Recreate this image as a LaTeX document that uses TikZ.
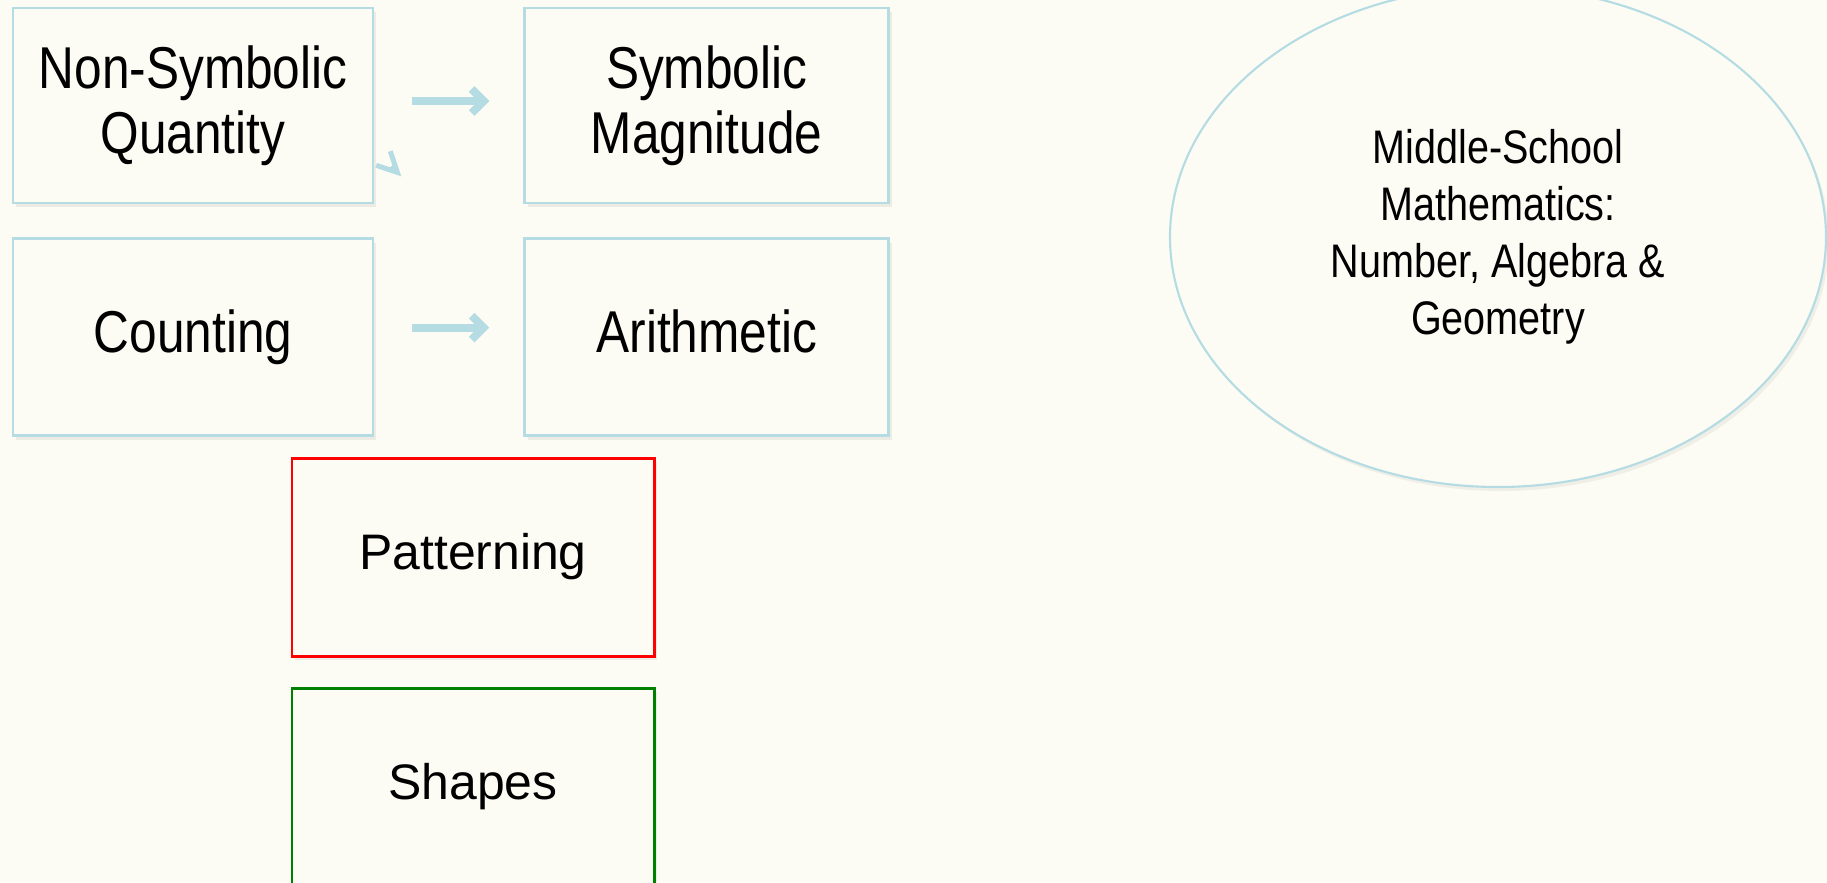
\documentclass[tikz,border=0pt]{standalone}
\usepackage{fontspec}
\setmainfont{Liberation Sans}
\newfontfamily\condfont[FakeStretch=0.84]{Liberation Sans}
\usepackage{xcolor}
\usetikzlibrary{arrows.meta, positioning, shapes.geometric, shadows}
\definecolor{paper}{HTML}{FCFCF4}
\definecolor{paleblue}{HTML}{B4DCE2}
\definecolor{boxred}{HTML}{FF0000}
\definecolor{boxgreen}{HTML}{008000}

\begin{document}
\begin{tikzpicture}[
    stage/.style={rectangle, draw=paleblue, line width=0.75pt, fill=paper,
                  minimum width=3.6cm, minimum height=1.95cm, inner sep=0pt, align=center,
                  font=\condfont\fontsize{16.8}{18.4}\selectfont,
                  drop shadow={opacity=0.12, shadow xshift=0.03cm, shadow yshift=-0.04cm}},
    skill/.style={stage, line width=0.85pt, minimum width=3.62cm, minimum height=1.98cm,
                  font=\fontsize{14.2}{17}\selectfont},
    flow/.style={-{Straight Barb[length=0.12cm, width=0.24cm]}, draw=paleblue, line width=0.08cm}
]
\fill[paper] (0,0) rectangle (18.27,-8.82);
\useasboundingbox (0,0) rectangle (18.27,-8.82);

\node[stage] (nsq) at (1.93,-1.055) {Non-Symbolic\\Quantity};
\node[stage, right=1.49cm of nsq, minimum width=3.64cm] (sm) {Symbolic\\Magnitude};
\node[stage, below=0.33cm of nsq, minimum height=1.97cm] (cnt) {Counting};
\node[stage, below=0.33cm of sm, minimum width=3.64cm, minimum height=1.97cm] (ari) {Arithmetic\vphantom{g}};
\node[skill, draw=boxred] (pat) at (4.73,-5.57) {Patterning};
\node[skill, draw=boxgreen, below=0.29cm of pat] (shp) {Shapes};
\node[ellipse, draw=paleblue, line width=0.6pt, fill=paper, minimum width=6.56cm,
      minimum height=5.0cm, align=center, font=\condfont\fontsize{13.4}{16.2}\selectfont,
      drop shadow={opacity=0.1, shadow xshift=0.03cm, shadow yshift=-0.04cm}] (msm)
      at (14.98,-2.37) {Middle-School\\Mathematics:\\Number, Algebra \&\\Geometry};

\draw[flow] ([xshift=0.38cm, yshift=0.045cm]nsq.east) -- ([xshift=-0.34cm, yshift=0.045cm]sm.west);
\draw[flow] ([xshift=0.38cm, yshift=0.095cm]cnt.east) -- ([xshift=-0.34cm, yshift=0.095cm]ari.west);
\draw[flow, line width=0.05cm, -{Straight Barb[length=0.2cm, width=0.2cm]}]
    ([shift={(0.17,0.38)}]nsq.south east) -- ([shift={(0.27,0.28)}]nsq.south east);
\end{tikzpicture}
\end{document}
